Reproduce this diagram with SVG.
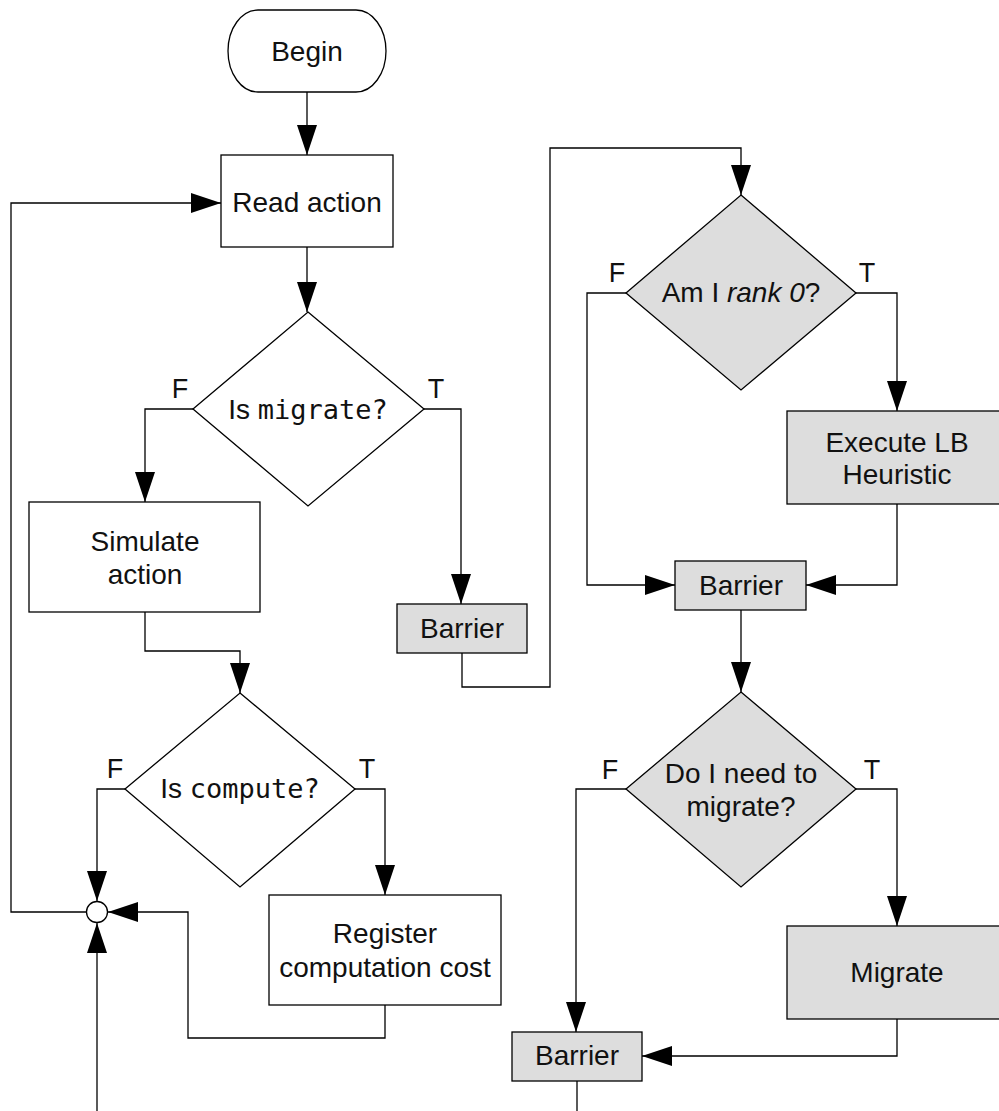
<svg xmlns="http://www.w3.org/2000/svg" width="999" height="1111" viewBox="0 0 999 1111">
<style>
.n{fill:#fff;stroke:#000;stroke-width:1.3}
.g{fill:#dddddd;stroke:#000;stroke-width:1.3}
.t{font-family:"Liberation Sans",Arial,sans-serif;font-size:28px;fill:#111;text-anchor:middle}
.m{font-family:"DejaVu Sans Mono","Liberation Mono",monospace;font-size:27px}
.l{font-family:"Liberation Sans",Arial,sans-serif;font-size:27px;fill:#111;text-anchor:middle}
.c{fill:none;stroke:#000;stroke-width:1.3}
</style>
<defs>
<marker id="a" markerUnits="userSpaceOnUse" markerWidth="30" markerHeight="20" refX="30" refY="10" orient="auto" viewBox="0 0 30 20">
<path d="M0,0 L30,10 L0,20 z" fill="#000"/>
</marker>
</defs>
<rect width="999" height="1111" fill="#fff"/>
<g id="connectors">
<path class="c" d="M307,92 V155" marker-end="url(#a)"/>
<path class="c" d="M307,247 V312" marker-end="url(#a)"/>
<path class="c" d="M193,409 H145 V502" marker-end="url(#a)"/>
<path class="c" d="M424,409 H461 V604" marker-end="url(#a)"/>
<path class="c" d="M145,612 V651 H240 V693" marker-end="url(#a)"/>
<path class="c" d="M125,789 H97 V901" marker-end="url(#a)"/>
<path class="c" d="M355,789 H385 V895" marker-end="url(#a)"/>
<path class="c" d="M385,1005 V1038 H188 V912 H108" marker-end="url(#a)"/>
<path class="c" d="M86,912 H11 V203 H221" marker-end="url(#a)"/>
<path class="c" d="M97,1111 V923" marker-end="url(#a)"/>
<path class="c" d="M462,653 V687 H550 V148 H741 V195" marker-end="url(#a)"/>
<path class="c" d="M626,293 H587 V585 H675" marker-end="url(#a)"/>
<path class="c" d="M856,293 H897 V411" marker-end="url(#a)"/>
<path class="c" d="M897,504 V585 H806" marker-end="url(#a)"/>
<path class="c" d="M741,610 V692" marker-end="url(#a)"/>
<path class="c" d="M626,789 H576 V1032" marker-end="url(#a)"/>
<path class="c" d="M856,789 H897 V926" marker-end="url(#a)"/>
<path class="c" d="M897,1019 V1056 H642" marker-end="url(#a)"/>
<path class="c" d="M577,1081 V1111"/>
</g>
<g id="begin">
<rect class="n" x="228" y="10" width="158" height="82" rx="30" ry="41"/>
<text class="t" x="307" y="61">Begin</text>
</g>
<g id="read-action">
<rect class="n" x="221" y="155" width="172" height="92"/>
<text class="t" x="307" y="212">Read action</text>
</g>
<g id="is-migrate">
<polygon class="n" points="308,312 424,409 308,506 193,409"/>
<text class="t" x="308" y="419">Is <tspan class="m">migrate?</tspan></text>
<text class="l" x="180" y="398">F</text>
<text class="l" x="436" y="398">T</text>
</g>
<g id="simulate-action">
<rect class="n" x="29" y="502" width="231" height="110"/>
<text class="t" x="145" y="551">Simulate</text>
<text class="t" x="145" y="584">action</text>
</g>
<g id="is-compute">
<polygon class="n" points="240,693 355,789 240,887 125,789"/>
<text class="t" x="240" y="798">Is <tspan class="m">compute?</tspan></text>
<text class="l" x="115" y="778">F</text>
<text class="l" x="367" y="778">T</text>
</g>
<g id="register">
<rect class="n" x="269" y="895" width="232" height="110"/>
<text class="t" x="385" y="943">Register</text>
<text class="t" x="385" y="977">computation cost</text>
</g>
<g id="junction">
<circle class="n" cx="97" cy="912" r="10.5"/>
</g>
<g id="barrier-1">
<rect class="g" x="397" y="604" width="130" height="49"/>
<text class="t" x="462" y="638">Barrier</text>
</g>
<g id="rank0">
<polygon class="g" points="741,195 856,293 741,390 626,293"/>
<text class="t" x="741" y="302">Am I <tspan font-style="italic">rank 0</tspan>?</text>
<text class="l" x="617" y="282">F</text>
<text class="l" x="867" y="282">T</text>
</g>
<g id="execute-lb">
<rect class="g" x="787" y="411" width="225" height="93"/>
<text class="t" x="897" y="452">Execute LB</text>
<text class="t" x="897" y="484">Heuristic</text>
</g>
<g id="barrier-2">
<rect class="g" x="675" y="561" width="131" height="49"/>
<text class="t" x="741" y="595">Barrier</text>
</g>
<g id="need-migrate">
<polygon class="g" points="741,692 856,789 741,887 626,789"/>
<text class="t" x="741" y="783">Do I need to</text>
<text class="t" x="741" y="816">migrate?</text>
<text class="l" x="610" y="779">F</text>
<text class="l" x="872" y="779">T</text>
</g>
<g id="migrate">
<rect class="g" x="787" y="926" width="225" height="93"/>
<text class="t" x="897" y="982">Migrate</text>
</g>
<g id="barrier-3">
<rect class="g" x="512" y="1032" width="130" height="49"/>
<text class="t" x="577" y="1065">Barrier</text>
</g>
</svg>
